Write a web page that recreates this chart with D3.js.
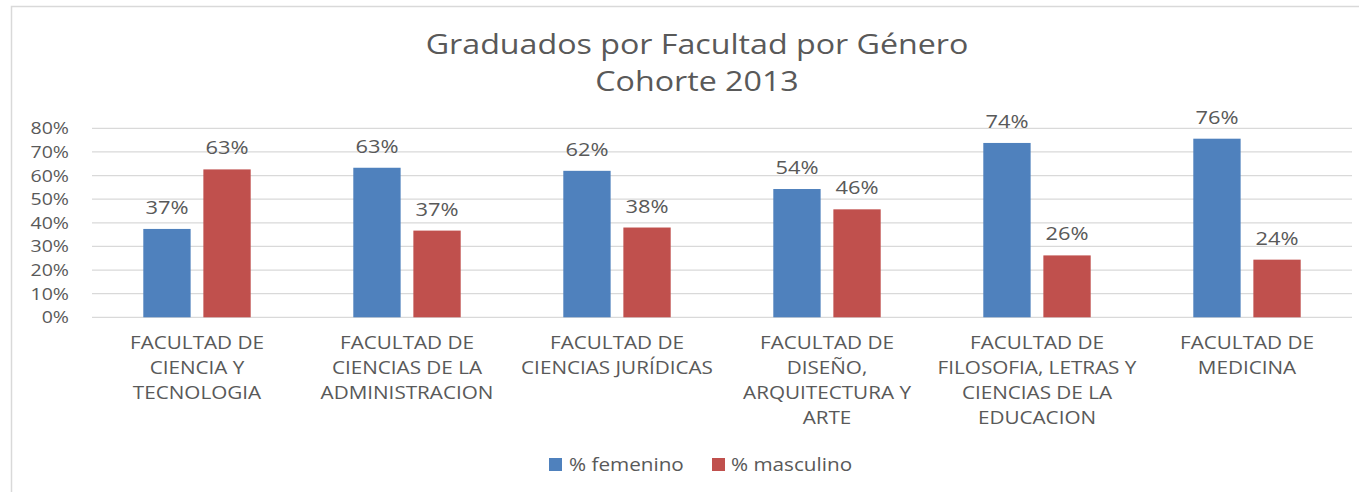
<!DOCTYPE html>
<html>
<head>
<meta charset="utf-8">
<script src="https://cdn.jsdelivr.net/npm/d3@7"></script>
<style>
  html, body { margin: 0; padding: 0; background: #fff; }
  svg { display: block; }
  text { font-family: "Open Sans", "DejaVu Sans", sans-serif; fill: #595959; }
</style>
</head>
<body>
<svg id="chart" width="1359" height="492"></svg>
<script>
const categories = [
  ["FACULTAD DE", "CIENCIA Y", "TECNOLOGIA"],
  ["FACULTAD DE", "CIENCIAS DE LA", "ADMINISTRACION"],
  ["FACULTAD DE", "CIENCIAS JURÍDICAS"],
  ["FACULTAD DE", "DISEÑO,", "ARQUITECTURA Y", "ARTE"],
  ["FACULTAD DE", "FILOSOFIA, LETRAS Y", "CIENCIAS DE LA", "EDUCACION"],
  ["FACULTAD DE", "MEDICINA"]
];
const seriesNames = ["% femenino", "% masculino"];
const femenino = [0.374, 0.633, 0.620, 0.543, 0.738, 0.756];
const masculino = [0.626, 0.367, 0.380, 0.457, 0.262, 0.244];
const yTicks = [0, 0.1, 0.2, 0.3, 0.4, 0.5, 0.6, 0.7, 0.8];
const titleLines = ["Graduados por Facultad por Género", "Cohorte 2013"];
const colors = ["#4f81bd", "#c0504d"];

const SX = 1.15; // horizontal stretch of the reference text
const svg = d3.select("#chart");

function stretchedText(parent, x, y) {
  return parent.append("text")
    .attr("x", 0).attr("y", 0)
    .attr("transform", `translate(${x},${y}) scale(${SX},1)`);
}

// chart border (only top and left visible in reference)
svg.append("rect")
  .attr("x", 11.5).attr("y", 6.5).attr("width", 1400).attr("height", 520)
  .attr("fill", "none").attr("stroke", "#d9d9d9").attr("stroke-width", 1.5);

const plotLeft = 92, plotRight = 1352, plotTop = 128.3, plotBottom = 317.3;

const idx = categories.map((d, i) => i);
const x0 = d3.scaleBand().domain(idx).range([plotLeft, plotRight]).padding(0);
const x1 = d3.scaleBand().domain([0, 1]).range([51.3, 158.7]).paddingInner(0.212).paddingOuter(0);
const y = d3.scaleLinear().domain([0, 0.8]).range([plotBottom, plotTop]);

// gridlines
svg.append("g").selectAll("line").data(yTicks).join("line")
  .attr("x1", plotLeft).attr("x2", plotRight)
  .attr("y1", d => y(d)).attr("y2", d => y(d))
  .attr("stroke", "#d9d9d9").attr("stroke-width", 1.2);

// y axis labels
const yAxis = d3.axisLeft(y).tickValues(yTicks).tickFormat(d3.format(".0%")).tickSize(0).tickPadding(0);
const yg = svg.append("g").attr("transform", `translate(${plotLeft - 23},0)`).call(yAxis);
yg.select(".domain").remove();
yg.selectAll("text").attr("font-size", 17).attr("fill", "#595959")
  .attr("transform", `scale(${SX},1)`)
  .style("font-family", '"Open Sans", sans-serif');

// bars
const seriesData = [femenino, masculino];
seriesData.forEach((vals, s) => {
  const g = svg.append("g");
  g.selectAll("rect").data(vals).join("rect")
    .attr("x", (d, i) => x0(i) + x1(s))
    .attr("width", x1.bandwidth())
    .attr("y", d => y(d))
    .attr("height", d => plotBottom - y(d))
    .attr("fill", colors[s]);
  g.selectAll("text").data(vals).join("text")
    .attr("transform", (d, i) => `translate(${x0(i) + x1(s) + x1.bandwidth() / 2},${y(d) - 15}) scale(${SX},1)`)
    .attr("text-anchor", "middle")
    .attr("font-size", 19)
    .attr("fill", "#404040")
    .text(d => Math.round(d * 100) + "%");
});

// category labels
const cg = svg.append("g");
categories.forEach((lines, i) => {
  const t = stretchedText(cg, x0(i) + x0.bandwidth() / 2, 349)
    .attr("text-anchor", "middle")
    .attr("font-size", 18);
  lines.forEach((ln, j) => {
    t.append("tspan").attr("x", 0).attr("dy", j === 0 ? 0 : 25).text(ln);
  });
});

// title
titleLines.forEach((ln, j) => {
  stretchedText(svg, 697, 54 + j * 37)
    .attr("text-anchor", "middle")
    .attr("font-size", 28)
    .text(ln);
});

// legend
const legendItems = [{x: 549, tx: 569}, {x: 712, tx: 731}];
legendItems.forEach((p, s) => {
  svg.append("rect").attr("x", p.x).attr("y", 458).attr("width", 13).attr("height", 13).attr("fill", colors[s]);
  stretchedText(svg, p.tx, 471).attr("font-size", 18).text(seriesNames[s]);
});
</script>
</body>
</html>
